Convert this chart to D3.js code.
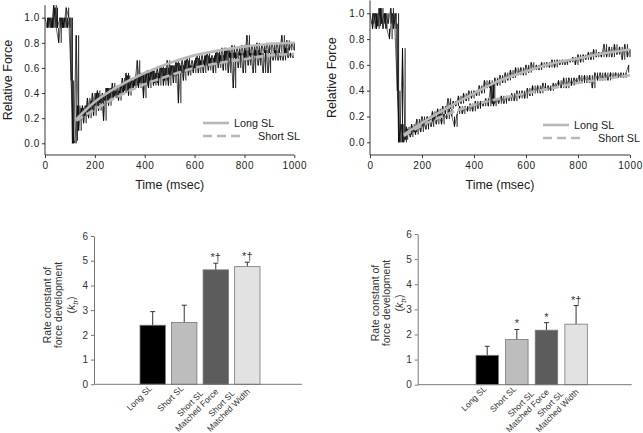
<!DOCTYPE html>
<html><head><meta charset="utf-8">
<script src="https://cdn.jsdelivr.net/npm/d3@7"></script>
<style>
body{margin:0;background:#fff;}
svg{display:block;font-family:"Liberation Sans",Arial,sans-serif;}
</style></head>
<body><svg id="c" width="643" height="433"></svg>
<script>
// ---------- DATA ----------
// Top-left panel (raw traces sampled every 10 ms; short SL trace offset by 5 ms)
const leftLongTrace = [1.0,0.92,1.0,0.92,1.08,0.92,1.0,0.92,1.0,0.92,1.0,
 0.0,0.02,0.3,0.2,0.3,0.22,0.36,0.26,0.4,0.3,0.42,0.32,0.4,0.34,0.44,0.36,0.48,0.38,0.46,0.4,
 0.52,0.42,0.54,0.44,0.52,0.46,0.66,0.48,0.56,0.46,0.58,0.5,0.58,0.48,0.6,0.52,0.6,0.5,0.66,0.54,
 0.62,0.54,0.64,0.56,0.66,0.58,0.68,0.58,0.66,0.6,0.7,0.6,0.7,0.62,0.72,0.62,0.7,0.64,0.74,0.64,
 0.76,0.66,0.74,0.68,0.78,0.68,0.76,0.7,0.78,0.68,0.86,0.7,0.78,0.7,0.8,0.7,0.78,0.72,0.8,0.72,
 0.8,0.72,0.8,0.72,0.86,0.72,0.82,0.74,0.8,0.74];
const leftShortTrace = [0.92,1.0,0.92,1.1,0.92,0.8,1.0,0.92,1.08,1.0,0.5,
 0.0,0.86,0.1,0.28,0.16,0.3,0.2,0.34,0.22,0.4,0.26,0.38,0.18,0.44,0.3,0.44,0.36,0.42,0.34,
 0.46,0.4,0.56,0.38,0.5,0.44,0.54,0.44,0.56,0.36,0.56,0.44,0.58,0.46,0.56,0.46,0.62,0.46,0.6,0.46,
 0.62,0.48,0.66,0.32,0.62,0.5,0.66,0.54,0.62,0.56,0.68,0.56,0.66,0.56,0.7,0.58,0.68,0.56,0.72,0.6,
 0.7,0.58,0.76,0.56,0.72,0.44,0.72,0.6,0.72,0.56,0.74,0.62,0.72,0.56,0.74,0.62,0.72,0.56,0.74,0.56,
 0.72,0.66,0.74,0.66,0.72,0.66,0.76,0.68,0.72,0.68];
// Fitted curves (time ms, relative force)
const fitTimes = [125,200,300,400,500,600,700,800,900,1000];
const leftLongFit  = [0.19,0.33,0.46,0.56,0.64,0.70,0.74,0.77,0.79,0.80];
const leftShortFit = [0.18,0.27,0.38,0.47,0.54,0.60,0.64,0.67,0.70,0.71];

// Top-right panel
const rightLongTrace = [1.0,0.88,1.0,0.9,1.04,0.88,1.0,0.92,1.04,0.88,1.0,
 0.0,0.14,0.0,0.12,0.06,0.14,0.08,0.18,0.12,0.2,0.14,0.2,0.16,0.24,0.18,0.26,0.2,0.28,0.22,0.34,
 0.26,0.32,0.28,0.36,0.3,0.38,0.32,0.4,0.34,0.4,0.36,0.44,0.38,0.48,0.42,0.48,0.3,0.5,0.44,0.52,
 0.46,0.54,0.48,0.56,0.5,0.58,0.52,0.58,0.52,0.6,0.54,0.62,0.56,0.6,0.56,0.62,0.58,0.62,0.58,0.64,
 0.58,0.64,0.6,0.64,0.6,0.64,0.62,0.66,0.6,0.68,0.62,0.68,0.64,0.7,0.64,0.72,0.66,0.7,0.66,0.76,
 0.66,0.74,0.66,0.76,0.68,0.74,0.64,0.76,0.66,0.72];
const rightShortTrace = [0.92,1.0,0.88,1.04,0.92,1.0,0.88,0.8,1.0,0.92,0.4,
 0.0,0.73,0.02,0.1,0.04,0.12,0.06,0.14,0.08,0.16,0.1,0.18,0.12,0.2,0.14,0.22,0.14,0.22,0.18,
 0.26,0.2,0.12,0.22,0.28,0.22,0.28,0.24,0.3,0.24,0.32,0.26,0.32,0.28,0.34,0.28,0.46,0.28,0.34,0.3,
 0.36,0.3,0.36,0.32,0.38,0.32,0.4,0.34,0.4,0.34,0.42,0.36,0.44,0.38,0.44,0.38,0.46,0.4,0.44,0.4,
 0.46,0.42,0.48,0.42,0.5,0.42,0.5,0.44,0.5,0.46,0.52,0.46,0.52,0.46,0.52,0.42,0.54,0.48,0.54,0.48,
 0.54,0.48,0.54,0.5,0.54,0.5,0.54,0.5,0.54,0.6];
const rightFitTimes = [130,200,300,400,500,600,700,800,900,1000];
const rightLongFit  = [0.06,0.15,0.27,0.38,0.48,0.55,0.61,0.65,0.69,0.72];
const rightShortFit = [0.05,0.13,0.22,0.29,0.34,0.38,0.42,0.46,0.49,0.52];

const forceTicks = [0,0.2,0.4,0.6,0.8,1.0];
const timeTicks = [0,200,400,600,800,1000];
const legendLabels = ["Long SL","Short SL"];

// Bar panels
const barCategories = ["Long SL","Short SL","Short SL Matched Force","Short SL Matched Width"];
const barLabelLines = [["Long SL"],["Short SL"],["Short SL","Matched Force"],["Short SL","Matched Width"]];
const barColors = ["#000000","#bdbdbd","#5c5c5c","#e2e2e2"];
const leftKtr = [2.39,2.50,4.63,4.76];
const leftKtrErr = [0.55,0.70,0.27,0.18];
const leftSig = ["","","*\u2020","*\u2020"];
const rightKtr = [1.17,1.80,2.17,2.41];
const rightKtrErr = [0.36,0.40,0.30,0.74];
const rightSig = ["","*","*","*\u2020"];
const ktrTicks = [0,1,2,3,4,5,6];

// ---------- DRAW ----------
const svg = d3.select("#c");
const TXT = "#222";

function tracePanel(o){
  const g = svg.append("g");
  const x = d3.scaleLinear().domain([0,1000]).range([o.x0,o.x1]);
  const y = d3.scaleLinear().domain([0,1]).range([o.y0,o.y1]);
  const yTop = y(1.1), yBot = o.axisY;
  const line = d3.line().x(d=>x(d[0])).y(d=>y(d[1]));
  const tA = o.longTrace.map((v,i)=>[i*10, v]);
  const tB = o.shortTrace.map((v,i)=>[i*10+5, v]);
  // quantised signal: vertical transitions at each sample + thin connecting line
  const spikes = tr => tr.slice(1).map((d,i)=>`M${x(d[0]).toFixed(2)},${y(tr[i][1]).toFixed(2)}V${y(d[1]).toFixed(2)}`).join("");
  [tB,tA].forEach(tr=>{
    g.append("path").attr("d",spikes(tr)).attr("fill","none").attr("stroke","#000").attr("stroke-width",0.9);
    g.append("path").attr("d",line(tr)).attr("fill","none").attr("stroke","#000").attr("stroke-width",0.6);
  });
  // fits
  const curve = d3.line().curve(d3.curveMonotoneX).x(d=>x(d[0])).y(d=>y(d[1]));
  g.append("path").attr("d",curve(o.fitT.map((t,i)=>[t,o.longFit[i]])))
    .attr("fill","none").attr("stroke","#b8b8b8").attr("stroke-width",2.6);
  g.append("path").attr("d",curve(o.fitT.map((t,i)=>[t,o.shortFit[i]])))
    .attr("fill","none").attr("stroke","#b8b8b8").attr("stroke-width",2.6).attr("stroke-dasharray","8,4");
  // axes
  const ax = g.append("g").attr("transform",`translate(0,${o.axisY})`)
    .call(d3.axisBottom(x).tickValues(timeTicks).tickSize(3).tickSizeOuter(0).tickFormat(d3.format("d")));
  ax.select(".domain").attr("d",`M${o.x0},0H${o.x1}`);
  const ay = g.append("g").attr("transform",`translate(${o.x0},0)`)
    .call(d3.axisLeft(y).tickValues(forceTicks).tickSize(3).tickSizeOuter(0).tickFormat(d3.format(".1f")));
  ay.select(".domain").attr("d",`M0,${yTop}V${yBot}`);
  [ax,ay].forEach(a=>{
    a.selectAll("path,line").attr("stroke","#222").attr("stroke-width",0.9);
    a.selectAll("text").attr("fill",TXT).style("font-size","10px").style("letter-spacing","0.6px");
  });
  ax.selectAll("text").attr("dy","0.71em").attr("y",7);
  ay.selectAll("text").attr("x",-5);
  // titles
  g.append("text").attr("x",(o.x0+o.x1)/2).attr("y",o.axisY+34).attr("text-anchor","middle")
    .attr("fill",TXT).style("font-size","12.5px").text("Time (msec)");
  g.append("text").attr("transform",`translate(${o.yTitleX},${(y(1.1)+o.axisY)/2}) rotate(-90)`)
    .attr("text-anchor","middle").attr("fill",TXT).style("font-size","12.5px").text("Relative Force");
  // legend
  const L = o.legend;
  g.append("line").attr("x1",L.x).attr("x2",L.x+26).attr("y1",L.y).attr("y2",L.y)
    .attr("stroke","#b8b8b8").attr("stroke-width",2.6);
  g.append("line").attr("x1",L.x).attr("x2",L.x+40).attr("y1",L.y+13).attr("y2",L.y+13)
    .attr("stroke","#b8b8b8").attr("stroke-width",2.6).attr("stroke-dasharray","9,5");
  g.append("text").attr("x",L.x+31).attr("y",L.y+4).attr("fill",TXT).style("font-size","10.8px")
    .text(legendLabels[0]);
  g.append("text").attr("x",L.x+55).attr("y",L.y+17).attr("fill",TXT).style("font-size","10.8px")
    .text(legendLabels[1]);
}

tracePanel({x0:45,x1:294.3,y0:143.3,y1:17.7,axisY:155,yTitleX:12,
  longTrace:leftLongTrace,shortTrace:leftShortTrace,fitT:fitTimes,longFit:leftLongFit,shortFit:leftShortFit,
  legend:{x:203,y:123}});
tracePanel({x0:370,x1:630,y0:142.3,y1:13.3,axisY:155,yTitleX:336,
  longTrace:rightLongTrace,shortTrace:rightShortTrace,fitT:rightFitTimes,longFit:rightLongFit,shortFit:rightShortFit,
  legend:{x:543,y:125}});

function barPanel(o){
  const g = svg.append("g");
  const x = d3.scaleBand().domain(barCategories).range(o.xr).paddingInner(o.pi).paddingOuter(o.pi/2);
  const y = d3.scaleLinear().domain([0,6]).range([o.y0,o.y6]);
  const data = barCategories.map((c,i)=>({c,v:o.vals[i],e:o.errs[i],s:o.sig[i],col:barColors[i],lab:barLabelLines[i]}));
  // error bars (upper only)
  data.forEach(d=>{
    const cx = x(d.c)+x.bandwidth()/2;
    g.append("line").attr("x1",cx).attr("x2",cx).attr("y1",y(d.v)).attr("y2",y(d.v+d.e))
      .attr("stroke","#333").attr("stroke-width",1);
    g.append("line").attr("x1",cx-2.5).attr("x2",cx+2.5).attr("y1",y(d.v+d.e)).attr("y2",y(d.v+d.e))
      .attr("stroke","#333").attr("stroke-width",1);
    if(d.s) g.append("text").attr("x",cx).attr("y",y(d.v+d.e)-2).attr("text-anchor","middle")
      .attr("fill","#333").style("font-size","11px").text(d.s);
  });
  g.selectAll("rect.bar").data(data).join("rect").attr("class","bar")
    .attr("x",d=>x(d.c)).attr("width",x.bandwidth())
    .attr("y",d=>y(d.v)).attr("height",d=>y(0)-y(d.v))
    .attr("fill",d=>d.col).attr("stroke","#777").attr("stroke-width",0.8);
  // axes
  const ay = g.append("g").attr("transform",`translate(${o.ax},0)`)
    .call(d3.axisLeft(y).tickValues(ktrTicks).tickSize(3).tickSizeOuter(0).tickFormat(d3.format("d")));
  ay.selectAll("path,line").attr("stroke","#777");
  ay.selectAll("text").attr("fill","#333").style("font-size","10px").attr("x",-6);
  g.append("line").attr("x1",o.ax).attr("x2",o.axEnd).attr("y1",y(0)).attr("y2",y(0))
    .attr("stroke","#777").attr("stroke-width",1);
  // category labels
  data.forEach(d=>{
    const cx = x(d.c)+x.bandwidth()/2;
    const lg = g.append("g").attr("transform",`translate(${cx},${y(0)-1}) rotate(-45)`);
    const n = d.lab.length;
    const ts = d.lab.map((t,i)=>lg.append("text").attr("fill","#333").style("font-size","8.5px")
      .attr("text-anchor","middle").attr("y", n===1 ? 4 : (i===0 ? -1 : 8.5)).text(t));
    const maxW = d3.max(ts, t=>t.node().getComputedTextLength());
    ts.forEach(t=>t.attr("x",-maxW/2-4));
  });
  // y title
  const t = g.append("text").attr("transform",`translate(${o.tx},${o.ty}) rotate(-90)`)
    .attr("text-anchor","middle").attr("fill","#333").style("font-size","10.5px");
  t.append("tspan").attr("x",0).attr("y",0).text("Rate constant of");
  t.append("tspan").attr("x",0).attr("y",11).text("force development");
  const l3 = t.append("tspan").attr("x",0).attr("y",24);
  l3.text("(");
  t.append("tspan").style("font-style","italic").text("k");
  t.append("tspan").style("font-style","italic").style("font-size","8px").attr("dy",2.5).text("tr");
  t.append("tspan").attr("dy",-2.5).text(")");
}

barPanel({xr:[136.9,263.1],pi:0.196,y0:384.3,y6:236,ax:94,axEnd:302,vals:leftKtr,errs:leftKtrErr,sig:leftSig,tx:51,ty:305});
barPanel({xr:[472.4,590.9],pi:0.242,y0:384.7,y6:234,ax:417.7,axEnd:631.7,vals:rightKtr,errs:rightKtrErr,sig:rightSig,tx:379,ty:303});
</script>
</body></html>
